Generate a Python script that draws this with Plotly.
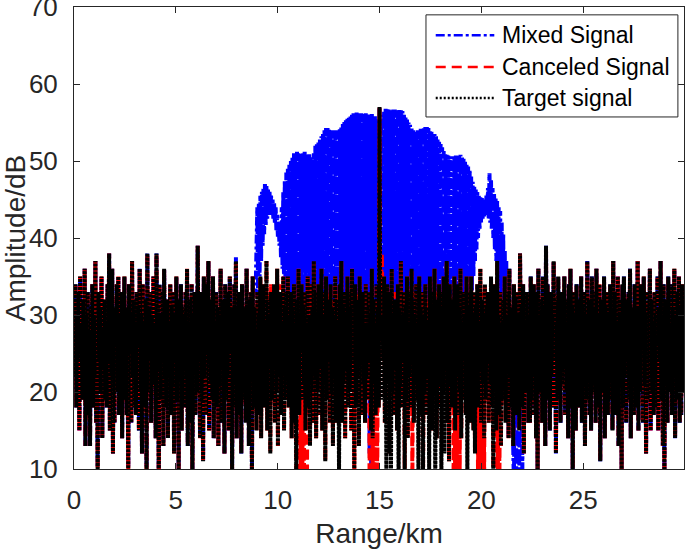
import plotly.graph_objects as go

# ---------------- data ----------------
range_step_km = 0.0375

target_signal = [
    31, 22, 34, 18, 30, 24, 33, 15, 35, 26, 29, 19, 32, 25, 36, 13, 30, 21, 33, 17,
    28, 13, 31, 25, 34, 18, 30, 22, 37, 16, 29, 9, 33, 24, 31, 20, 35, 14, 28, 23,
    32, 19, 29, 18, 34, 24, 38, 15, 33, 22, 36, 12, 31, 16, 29, 26, 34, 20, 35, 17,
    30, 21, 33, 14, 29, 24, 35, 19, 31, 17, 28, 9, 34, 25, 30, 16, 37, 22, 32, 18,
    29, 17, 33, 26, 31, 15, 36, 20, 30, 12, 34, 23, 29, 18, 32, 9, 38, 20, 31, 24,
    33, 16, 30, 21, 35, 24, 29, 14, 38, 23, 31, 8, 34, 19, 30, 25, 33, 13, 36, 22,
    30, 18, 32, 14, 29, 26, 34, 17, 31, 21, 33, 12, 30, 24, 35, 19, 29, 10, 32, 22,
    34, 15, 31, 27, 30, 18, 33, 22, 36, 13, 29, 20, 32, 16, 34, 9, 30, 23, 33, 17,
    31, 20, 39, 24, 30, 14, 33, 19, 29, 11, 35, 22, 31, 17, 34, 25, 37, 15, 30, 21,
    32, 19, 35, 14, 29, 24, 33, 18, 31, 13, 30, 21, 36, 16, 32, 23, 29, 12, 34, 19,
    30, 22, 33, 15, 35, 25, 31, 10, 29, 18, 34, 21, 37, 14, 31, 24, 33, 17, 30, 12,
    34, 19, 31, 23, 29, 16, 36, 21, 32, 13, 30, 24, 33, 9, 35, 18, 31, 22, 28, 15,
    33, 17, 30, 22, 35, 14, 31, 26, 34, 18, 29, 20, 37, 15, 32, 23, 30, 12, 33, 19,
    29, 23, 34, 16, 31, 20, 36, 13, 30, 22, 33, 17, 29, 24, 35, 15, 31, 19, 33, 21,
    35, 18, 30, 24, 33, 14, 31, 20, 34, 16, 29, 8, 32, 22, 36, 17, 30, 25, 34, 19,
    31, 21, 33, 15, 29, 25, 35, 18, 30, 13, 34, 20, 31, 16, 37, 22, 33, 14, 29, 20,
    34, 17, 31, 23, 36, 15, 30, 21, 33, 11, 35, 19, 29, 24, 32, 16, 34, 20, 31, 13,
    30, 22, 35, 16, 32, 25, 29, 9, 34, 19, 37, 16, 31, 21, 33, 14, 30, 23, 35, 18,
    33, 20, 31, 15, 36, 24, 30, 9, 34, 18, 32, 22, 29, 13, 35, 25, 31, 17, 33, 21,
    29, 16, 34, 22, 31, 19, 33, 24, 30, 15, 36, 14, 32, 21, 29, 17, 34, 23, 31, 18,
    57, 27, 33, 19, 30, 24, 35, 16, 31, 8, 34, 21, 29, 12, 33, 9, 36, 20, 30, 17,
    32, 23, 29, 15, 34, 7, 31, 21, 37, 18, 30, 24, 33, 10, 31, 19, 35, 14, 29, 22,
    33, 18, 36, 24, 30, 16, 32, 19, 34, 21, 29, 8, 35, 17, 31, 23, 33, 9, 30, 20,
    34, 17, 31, 22, 29, 9, 35, 19, 33, 15, 30, 24, 36, 7, 32, 14, 29, 21, 34, 18,
    31, 8, 33, 20, 35, 12, 30, 23, 37, 16, 31, 11, 34, 21, 29, 18, 32, 24, 35, 15,
    30, 22, 34, 17, 31, 20, 36, 14, 29, 24, 33, 19, 30, 17, 35, 8, 31, 21, 33, 16,
    35, 20, 30, 15, 33, 12, 31, 22, 34, 18, 29, 23, 36, 16, 32, 21, 30, 14, 34, 19,
    31, 24, 33, 16, 30, 21, 35, 18, 29, 8, 34, 22, 31, 15, 37, 20, 30, 17, 33, 13,
    29, 19, 32, 24, 35, 16, 30, 20, 33, 14, 36, 22, 31, 18, 29, 13, 34, 21, 32, 17,
    33, 21, 30, 15, 38, 23, 31, 18, 34, 12, 29, 20, 33, 22, 33, 16, 30, 16, 35, 19,
    31, 17, 34, 22, 29, 14, 33, 10, 36, 20, 30, 24, 32, 16, 35, 21, 31, 13, 39, 19,
    34, 20, 31, 15, 33, 22, 30, 18, 37, 24, 32, 12, 29, 19, 35, 23, 31, 16, 33, 21,
    30, 23, 35, 17, 32, 20, 29, 14, 34, 25, 36, 18, 31, 9, 33, 21, 30, 15, 34, 22,
    32, 18, 29, 24, 35, 16, 31, 21, 33, 13, 30, 19, 37, 23, 32, 17, 29, 15, 35, 20,
    33, 21, 31, 16, 36, 25, 30, 18, 34, 11, 32, 20, 29, 23, 35, 14, 31, 19, 33, 17,
    30, 19, 34, 23, 31, 15, 37, 20, 33, 17, 29, 24, 35, 13, 32, 21, 30, 10, 34, 18,
    35, 22, 30, 16, 32, 24, 33, 19, 36, 14, 31, 21, 29, 17, 34, 18, 31, 23, 37, 15,
    31, 20, 34, 23, 29, 16, 35, 21, 30, 12, 33, 19, 31, 24, 36, 15, 32, 20, 29, 17,
    33, 18, 30, 22, 35, 15, 31, 24, 37, 19, 29, 13, 34, 9, 32, 21, 30, 16, 35, 20,
    29, 21, 34, 17, 31, 23, 36, 14, 30, 19, 33, 22, 35, 16, 31, 17, 34, 20, 32, 28,
]

canceled_signal = [
    31, 22, 34, 18, 30, 24, 33, 15, 35, 26, 29, 19, 32, 25, 36, 13, 30, 21, 33, 17,
    28, 13, 31, 25, 34, 18, 30, 22, 37, 16, 29, 9, 33, 24, 31, 20, 35, 14, 28, 23,
    32, 19, 29, 18, 34, 24, 38, 15, 33, 22, 36, 12, 31, 16, 29, 26, 34, 20, 35, 17,
    30, 21, 33, 14, 29, 24, 35, 19, 31, 17, 28, 9, 34, 25, 30, 16, 37, 22, 32, 18,
    29, 17, 33, 26, 31, 15, 36, 20, 30, 12, 34, 23, 29, 18, 32, 9, 38, 20, 31, 24,
    33, 16, 30, 21, 35, 24, 29, 14, 38, 23, 31, 8, 34, 19, 30, 25, 33, 13, 36, 22,
    30, 18, 32, 14, 29, 26, 34, 17, 31, 21, 33, 12, 30, 24, 35, 19, 29, 10, 32, 22,
    34, 15, 31, 27, 30, 18, 33, 22, 36, 13, 29, 20, 32, 16, 34, 9, 30, 23, 33, 17,
    31, 20, 39, 24, 30, 14, 33, 19, 29, 11, 35, 22, 31, 17, 34, 25, 37, 15, 30, 21,
    32, 19, 35, 14, 29, 24, 33, 18, 31, 13, 30, 21, 36, 16, 32, 23, 29, 12, 34, 19,
    30, 22, 33, 15, 35, 25, 31, 10, 29, 18, 34, 21, 37, 14, 31, 24, 33, 17, 30, 12,
    34, 19, 31, 23, 29, 16, 36, 21, 32, 13, 30, 24, 33, 9, 35, 18, 31, 22, 28, 15,
    33, 17, 31, 22, 35, 14, 32, 26, 34, 18, 30, 20, 37, 15, 33, 23, 30, 12, 34, 19,
    30, 23, 34, 16, 32, 20, 36, 13, 31, 22, 34, 17, 29, 24, 35, 15, 32, 19, 33, 21,
    35, 18, 31, 24, 33, 14, 32, 20, 34, 16, 30, 8, 32, 22, 36, 9, 30, 7, 34, 9,
    31, 8, 33, 15, 30, 7, 35, 18, 31, 13, 34, 20, 32, 16, 37, 22, 33, 14, 30, 20,
    34, 17, 32, 23, 36, 15, 31, 21, 33, 11, 35, 19, 30, 24, 33, 16, 34, 20, 32, 13,
    31, 22, 35, 16, 33, 25, 30, 24, 34, 19, 37, 16, 32, 21, 33, 14, 31, 23, 35, 18,
    33, 20, 32, 15, 36, 24, 31, 9, 34, 18, 33, 22, 30, 13, 35, 25, 32, 17, 33, 21,
    30, 16, 34, 22, 32, 19, 33, 8, 30, 15, 36, 7, 32, 9, 29, 17, 34, 8, 31, 18,
    57, 27, 33, 38, 30, 24, 35, 16, 32, 24, 34, 21, 30, 12, 33, 22, 36, 20, 31, 17,
    33, 23, 30, 15, 34, 23, 32, 21, 37, 18, 31, 24, 33, 10, 32, 19, 35, 14, 30, 22,
    33, 18, 36, 8, 30, 16, 33, 19, 34, 21, 30, 23, 35, 17, 32, 23, 33, 9, 31, 20,
    34, 17, 32, 22, 30, 22, 35, 19, 33, 15, 31, 24, 36, 24, 33, 14, 30, 21, 34, 18,
    32, 23, 33, 20, 35, 21, 31, 23, 37, 16, 32, 11, 34, 21, 30, 18, 32, 9, 35, 8,
    31, 7, 34, 17, 32, 9, 36, 14, 30, 24, 33, 19, 31, 17, 35, 21, 32, 21, 33, 16,
    35, 20, 31, 15, 33, 12, 32, 22, 34, 8, 30, 23, 36, 7, 33, 21, 31, 9, 34, 19,
    32, 24, 33, 16, 31, 21, 35, 18, 30, 8, 34, 22, 32, 7, 37, 9, 31, 8, 33, 13,
    30, 19, 32, 24, 35, 16, 31, 20, 33, 14, 36, 22, 31, 18, 29, 13, 34, 21, 32, 17,
    33, 21, 30, 15, 38, 23, 31, 18, 34, 12, 29, 20, 33, 22, 33, 16, 30, 16, 35, 19,
    31, 17, 34, 22, 29, 14, 33, 10, 36, 20, 30, 24, 32, 16, 35, 21, 31, 13, 39, 19,
    34, 20, 31, 15, 33, 22, 30, 18, 37, 24, 32, 12, 29, 19, 35, 23, 31, 16, 33, 21,
    30, 23, 35, 17, 32, 20, 29, 14, 34, 25, 36, 18, 31, 9, 33, 21, 30, 15, 34, 22,
    32, 18, 29, 24, 35, 16, 31, 21, 33, 13, 30, 19, 37, 23, 32, 17, 29, 15, 35, 20,
    33, 21, 31, 16, 36, 25, 30, 18, 34, 11, 32, 20, 29, 23, 35, 14, 31, 19, 33, 17,
    30, 19, 34, 23, 31, 15, 37, 20, 33, 17, 29, 24, 35, 13, 32, 21, 30, 10, 34, 18,
    35, 22, 30, 16, 32, 24, 33, 19, 36, 14, 31, 21, 29, 17, 34, 18, 31, 23, 37, 15,
    31, 20, 34, 23, 29, 16, 35, 21, 30, 12, 33, 19, 31, 24, 36, 15, 32, 20, 29, 17,
    33, 18, 30, 22, 35, 15, 31, 24, 37, 19, 29, 13, 34, 9, 32, 21, 30, 16, 35, 20,
    29, 21, 34, 17, 31, 23, 36, 14, 30, 19, 33, 22, 35, 16, 31, 17, 34, 20, 32, 28,
]

mixed_signal = [
    31, 22, 34, 18, 30, 24, 33, 15, 35, 26, 29, 19, 32, 25, 36, 13, 30, 21, 33, 17,
    28, 13, 31, 25, 34, 18, 30, 22, 37, 16, 29, 9, 33, 24, 31, 20, 35, 14, 28, 23,
    32, 19, 29, 18, 34, 24, 38, 15, 33, 22, 36, 12, 31, 16, 29, 26, 34, 20, 35, 17,
    30, 21, 33, 14, 29, 24, 35, 19, 31, 17, 28, 9, 34, 25, 30, 16, 37, 22, 32, 18,
    29, 17, 33, 26, 31, 15, 36, 20, 30, 12, 34, 23, 29, 18, 32, 9, 38, 20, 31, 24,
    33, 16, 30, 21, 35, 24, 29, 14, 38, 23, 31, 8, 34, 19, 30, 25, 33, 13, 36, 22,
    30, 18, 32, 14, 29, 26, 34, 17, 31, 21, 33, 12, 30, 24, 35, 19, 29, 10, 32, 22,
    34, 15, 31, 27, 30, 18, 33, 22, 36, 13, 29, 20, 32, 16, 34, 9, 30, 23, 33, 17,
    31, 20, 39, 24, 30, 14, 33, 19, 29, 11, 35, 22, 31, 17, 34, 25, 37, 15, 30, 21,
    32, 19, 35, 14, 29, 24, 33, 18, 31, 13, 30, 21, 36, 16, 32, 23, 29, 12, 34, 19,
    30, 22, 33, 15, 35, 25, 31, 10, 29, 18, 34, 21, 37.5, 14, 31, 24, 33, 17, 30, 12,
    34, 19, 31, 23, 29, 16, 36, 21, 32, 13, 30, 24, 33, 9, 35, 18, 31, 30, 34, 38,
    44, 33, 44.5, 35, 45.5, 37, 46, 39, 46.5, 40.5, 47, 41.5, 46.8, 42.5, 46.3, 43, 46, 43, 45.5, 43,
    45, 42.5, 44.5, 42, 44, 41, 43, 40, 42, 39, 41.5, 37.5, 44, 36, 46, 34, 47.5, 31, 48.5, 28,
    49, 27, 49.5, 31, 50, 25, 50.5, 33, 51, 29, 51, 24, 51.2, 32, 51, 28, 50.8, 30, 51, 26,
    51, 30, 51.2, 27, 51, 33, 50.8, 26, 51, 31, 50.5, 28, 50, 32, 51, 25, 52, 30, 52.3, 29,
    52.5, 31, 52.8, 27, 53.2, 33, 53.5, 29, 54, 26, 54.3, 32, 54.3, 28, 54.2, 30, 54, 25, 54, 31,
    54, 29, 53.8, 32, 54, 27, 53.8, 30, 54.2, 33, 54.5, 26, 54.8, 31, 55.2, 28, 55.3, 30, 55.5, 32,
    55.6, 28, 55.8, 31, 56, 27, 56.2, 33, 56.3, 29, 56.3, 30, 56.2, 26, 56.3, 32, 56.2, 28, 56.1, 31,
    56.1, 30, 56.2, 27, 56, 31, 56.1, 12, 56, 8, 56.1, 29, 56, 32, 55.8, 27, 55.5, 30, 55.4, 29,
    57, 27, 55.5, 31, 56, 28, 56.5, 33, 56.8, 29, 56.8, 26, 56.7, 32, 56.6, 28, 56.7, 30, 56.7, 27,
    56.7, 31, 56.6, 28, 56.7, 33, 56.7, 26, 56.6, 30, 56.5, 29, 56, 32, 55.8, 27, 55.4, 31, 55, 28,
    54.7, 29, 54.3, 32, 54, 27, 53.8, 31, 53.8, 28, 54, 33, 54, 26, 54.2, 30, 54.3, 29, 54.4, 32,
    54.4, 27, 54.4, 31, 54.3, 28, 54, 33, 53.8, 29, 53.6, 30, 53.5, 26, 53.2, 32, 52.8, 28, 52.5, 31,
    52.2, 30, 51.8, 28, 51.3, 33, 51, 27, 50.8, 31, 50.7, 29, 50.6, 32, 50.6, 26, 50.5, 30, 50.6, 28,
    50.7, 31, 50.8, 27, 50.8, 30, 50.8, 33, 50.6, 28, 50.3, 32, 50, 29, 49.5, 31, 49.3, 33, 48.8, 34,
    48, 33, 47.3, 35, 46.7, 37, 46.3, 38.5, 46, 40, 45.6, 41, 45.3, 42, 45.2, 42.5, 45, 42.8, 45, 43,
    45.5, 43, 46.5, 42.5, 48.4, 42, 47.5, 41, 46.5, 40, 45.8, 38.5, 45.3, 37, 44.8, 34, 44, 31, 43.5, 29,
    42, 30, 40.5, 24, 38.5, 27, 37, 20, 36, 14, 36, 22, 31, 18, 29, 13, 8, 21, 32, 7,
    33, 21, 30, 8, 38, 23, 31, 9, 34, 12, 29, 20, 33, 22, 33, 16, 30, 16, 35, 19,
    31, 17, 34, 22, 29, 14, 33, 10, 36, 20, 30, 24, 32, 16, 35, 21, 31, 13, 39, 19,
    34, 20, 31, 15, 33, 22, 30, 18, 37, 24, 32, 12, 29, 19, 35, 23, 31, 16, 33, 21,
    30, 23, 35, 17, 32, 20, 29, 14, 34, 25, 36, 18, 31, 9, 33, 21, 30, 15, 34, 22,
    32, 18, 29, 24, 35, 16, 31, 21, 33, 13, 30, 19, 37, 23, 32, 17, 29, 15, 35, 20,
    33, 21, 31, 16, 36, 25, 30, 18, 34, 11, 32, 20, 29, 23, 35, 14, 31, 19, 33, 17,
    30, 19, 34, 23, 31, 15, 37, 20, 33, 17, 29, 24, 35, 13, 32, 21, 30, 10, 34, 18,
    35, 22, 30, 16, 32, 24, 33, 19, 36, 14, 31, 21, 29, 17, 34, 18, 31, 23, 37, 15,
    31, 20, 34, 23, 29, 16, 35, 21, 30, 12, 33, 19, 31, 24, 36, 15, 32, 20, 29, 17,
    33, 18, 30, 22, 35, 15, 31, 24, 37, 19, 29, 13, 34, 9, 32, 21, 30, 16, 35, 20,
    29, 21, 34, 17, 31, 23, 36, 14, 30, 19, 33, 22, 35, 16, 31, 17, 34, 20, 32, 28,
]

range_km = [round(i * range_step_km, 4) for i in range(len(target_signal))]

x_tick_values = [0, 5, 10, 15, 20, 25]
y_tick_values = [10, 20, 30, 40, 50, 60, 70]

series_names = ["Mixed Signal", "Canceled Signal", "Target signal"]
series_colors = ["#0000ff", "#ff0000", "#000000"]
data_dashes = ["9px,3px,3px,3px", "10px,5px", "3px,1px"]
legend_dashes = ["9px,3px,3px,3px", "10px,6px", "2px,2px"]
series_values = [mixed_signal, canceled_signal, target_signal]

# ---------------- figure ----------------
FONT = "Liberation Sans, Arial, Helvetica, sans-serif"
AX = "#262626"

fig = go.Figure()
for name, color, dash, vals in zip(series_names, series_colors, data_dashes, series_values):
    fig.add_trace(go.Scatter(
        x=range_km, y=vals, mode="lines", name=name,
        line=dict(color=color, width=4, dash=dash),
        showlegend=False, hoverinfo="skip",
    ))

# MATLAB-like legend (box, line samples, labels) in paper coordinates
leg_x0, leg_x1, leg_y0, leg_y1 = 0.577, 0.990, 0.762, 0.983
sample_x0, sample_x1, text_x = 0.593, 0.689, 0.698
row_y = [0.939, 0.870, 0.803]

shapes = [dict(type="rect", xref="paper", yref="paper",
               x0=leg_x0, x1=leg_x1, y0=leg_y0, y1=leg_y1,
               line=dict(color=AX, width=1), fillcolor="white", layer="above")]
annotations = []
for name, color, dash, yy in zip(series_names, series_colors, legend_dashes, row_y):
    shapes.append(dict(type="line", xref="paper", yref="paper",
                       x0=sample_x0, x1=sample_x1, y0=yy, y1=yy,
                       line=dict(color=color, width=2.5, dash=dash), layer="above"))
    annotations.append(dict(xref="paper", yref="paper", x=text_x, y=yy,
                            xanchor="left", yanchor="middle", showarrow=False,
                            text=name, font=dict(family=FONT, size=23, color="#000000")))

axis_common = dict(
    showline=True, linecolor=AX, linewidth=1, mirror="ticks",
    ticks="inside", ticklen=6, tickcolor=AX, tickwidth=1,
    showgrid=False, zeroline=False, ticklabeloverflow="allow",
    automargin=False,
    tickfont=dict(family=FONT, size=26, color=AX),
)

fig.update_layout(
    width=685, height=553,
    margin=dict(l=74, r=1, t=7, b=84),
    paper_bgcolor="white", plot_bgcolor="white",
    font=dict(family=FONT, color=AX),
    shapes=shapes, annotations=annotations,
    xaxis=dict(range=[0, 29.95], tickvals=x_tick_values, ticklabelstandoff=8,
               title=dict(text="Range/km", font=dict(family=FONT, size=28, color=AX), standoff=9),
               **axis_common),
    yaxis=dict(range=[10, 70], tickvals=y_tick_values, ticklabelstandoff=10,
               title=dict(text="Amplitude/dB", font=dict(family=FONT, size=28, color=AX), standoff=5),
               **axis_common),
)

fig.write_html("out.html", config={"displayModeBar": False},
               post_script="document.body.style.margin='0';")
